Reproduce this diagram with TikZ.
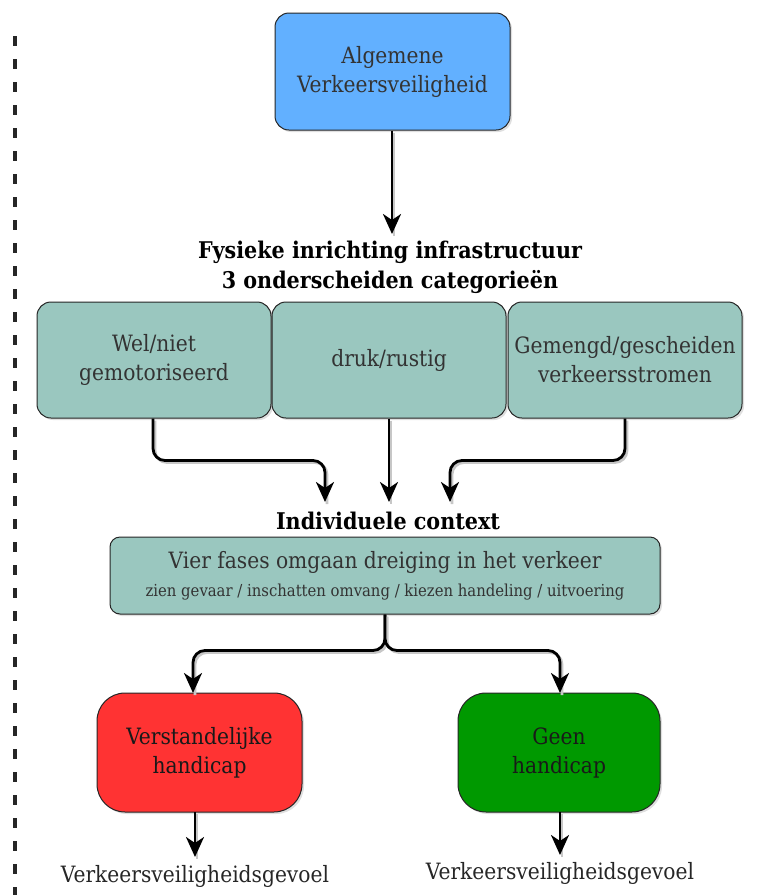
\documentclass[tikz,border=0pt]{standalone}
\usepackage{fontspec}
\setmainfont{DejaVu Serif Condensed}
\usetikzlibrary{arrows.meta,shadows,calc}
\definecolor{topblue}{RGB}{98,176,255}
\definecolor{teal}{RGB}{154,199,191}
\definecolor{redbox}{RGB}{255,51,51}
\definecolor{greenbox}{RGB}{0,153,0}
\begin{document}
\begin{tikzpicture}[x=1pt,y=-1pt,
  box/.style={draw=black!85, line width=1pt, rounded corners=14pt, align=center,
    inner sep=0pt, font=\fontsize{22.5}{29}\selectfont, text=black!80,
    drop shadow={shadow xshift=2pt,shadow yshift=-2pt,opacity=0.25}},
  bigbox/.style={box, rounded corners=28pt},
  lbl/.style={align=center, font=\bfseries\fontsize{23}{30}\selectfont},
  conn/.style={line width=2.8pt, rounded corners=12pt,
    -{Stealth[length=20pt,width=18pt,inset=6pt]},
    preaction={draw=black!22, line width=2.8pt, -, transform canvas={xshift=2pt,yshift=-2pt}}},
  plain/.style={font=\fontsize{22.5}{28}\selectfont, text=black!85}]
\useasboundingbox (0,0) rectangle (760,895);
% dashed separator
\draw[line width=3.2pt, black!85, dash pattern=on 10pt off 13pt] (15,36) -- (15,895);
% nodes
\node[box, fill=topblue, minimum width=235pt, minimum height=117pt] (top) at (392.5,71.5)
  {\raisebox{-3pt}{Algemene}\\\raisebox{-3pt}{Verkeersveiligheid}};
\node[lbl, inner sep=1pt] (fys) at (390,267) {Fysieke inrichting infrastructuur\\3 onderscheiden categorieën};
\node[box, fill=teal, minimum width=234pt, minimum height=116pt] (c1) at (154,360) {Wel/niet\\gemotoriseerd};
\node[box, fill=teal, minimum width=234pt, minimum height=116pt] (c2) at (389,360) {druk/rustig};
\node[box, fill=teal, minimum width=234pt, minimum height=116pt] (c3) at (625,360) {Gemengd/gescheiden\\verkeersstromen};
\node[lbl, inner sep=1pt] (ind) at (388,521) {Individuele context};
\node[box, fill=teal, rounded corners=10pt, minimum width=550pt, minimum height=77pt] (fases) at (385,575.5)
  {Vier fases omgaan dreiging in het verkeer\\[-1pt]
   {\fontsize{16.5}{20}\selectfont zien gevaar / inschatten omvang / kiezen handeling / uitvoering}};
\node[bigbox, fill=redbox, minimum width=205pt, minimum height=119pt, text=black!90] (red) at (199.5,752.5)
  {Verstandelijke\\handicap};
\node[bigbox, fill=greenbox, minimum width=202pt, minimum height=119pt, text=black!90] (green) at (559,752.5)
  {Geen\\handicap};
\node[plain] (g1) at (195,876) {Verkeersveiligheidsgevoel};
\node[plain] (g2) at (560,873) {Verkeersveiligheidsgevoel};
% targets
\coordinate (ft) at (392,234);
\coordinate (t1) at (325,502);
\coordinate (t2) at (389,502);
\coordinate (t3) at (450,502);
\coordinate (rt) at (193,693);
\coordinate (gt) at (560,693);
\coordinate (r1) at (195,812);
\coordinate (r2) at (195,857);
\coordinate (q1) at (560,812);
\coordinate (q2) at (560,855);
% connectors
\draw[conn] (top.south -| ft) -- (ft);
\draw[conn] ($(c1.south)+(-1,0)$) -- ++(0,42) -| (t1);
\draw[conn] (c2.south) -- (t2);
\draw[conn] (c3.south) -- ++(0,42) -| (t3);
\draw[conn] (fases.south) -- ++(0,36) -| (rt);
\draw[conn] (fases.south) -- ++(0,36) -| (gt);
\draw[conn] (r1) -- (r2);
\draw[conn] (q1) -- (q2);
\end{tikzpicture}
\end{document}
